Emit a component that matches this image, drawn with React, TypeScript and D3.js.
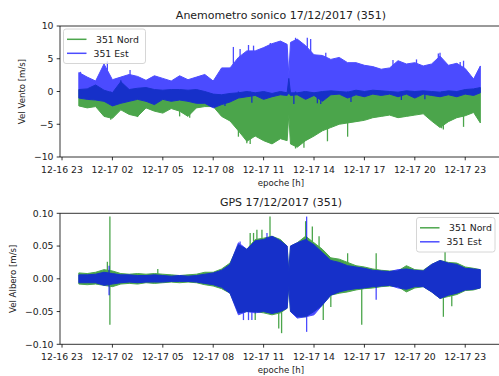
import React from 'react';
import * as d3 from 'd3';

// hours from 12-17 00:00
const times = [0, 0.5, 1, 1.5, 2, 2.5, 3, 3.5, 4, 4.5, 5, 5.5, 6, 6.5, 7, 7.5, 8, 8.5, 9, 9.5, 10, 10.5, 11, 11.5, 12, 12.4, 12.5, 12.6, 13, 13.5, 14, 14.5, 15, 15.5, 16, 16.5, 17, 17.5, 18, 18.5, 19, 19.5, 20, 20.5, 21, 21.5, 22, 22.5, 23, 23.5, 23.9];

// anemometro: envelope (min / max) of each half hour
const ventoNordLo = [-2.2, -2.5, -2.3, -3.8, -4.1, -2.8, -3.5, -3.8, -2.5, -3.0, -3.3, -2.6, -3.0, -3.8, -2.5, -2.3, -2.3, -3.8, -4.5, -6.0, -7.6, -6.8, -7.5, -8.0, -7.2, -7.5, -3.5, -8.0, -8.5, -7.5, -6.8, -6.0, -5.5, -5.0, -4.8, -4.6, -4.4, -4.0, -3.8, -3.6, -4.0, -3.8, -3.6, -3.4, -4.5, -5.5, -4.6, -4.0, -3.7, -3.2, -4.8];
const ventoNordHi = [0.3, 0.4, 1.0, 0.2, -0.2, 1.5, 0.3, 0.5, 0.6, 0.3, 0.2, 0.3, 0.3, 0.2, 0.3, 0.0, -0.4, -0.5, -0.3, -0.2, 0.0, -0.2, 0.0, -0.3, 0.0, -0.2, 2.0, -0.2, -0.2, 0.0, -0.2, 0.0, 0.1, 0.0, -0.1, 0.2, 0.0, 0.2, 0.1, 0.0, -0.1, 0.1, 0.0, 0.1, 0.0, -0.1, 0.1, 0.0, 0.3, 0.4, 0.6];
const ventoEstLo = [-1.0, -1.2, -1.3, -1.5, -2.2, -1.8, -1.5, -1.2, -1.5, -2.0, -1.2, -1.5, -1.3, -1.5, -1.8, -1.8, -2.5, -2.0, -1.6, -1.0, -0.8, -0.6, -1.2, -0.8, -0.5, -0.6, -0.2, -0.6, -0.5, -1.2, -0.6, -1.5, -0.5, -0.4, -1.0, -0.5, -0.8, -0.4, -0.6, -0.4, -0.8, -0.4, -1.0, -0.4, -0.6, -0.8, -0.5, -0.8, -0.4, -0.6, -0.2];
const ventoEstHi = [2.9, 2.2, 1.6, 4.2, 1.8, 2.2, 2.6, 2.3, 1.7, 2.4, 2.0, 1.6, 2.4, 1.8, 2.2, 2.6, 1.6, 3.6, 3.6, 5.2, 6.2, 6.2, 6.7, 7.3, 7.7, 7.2, 2.5, 7.5, 8.0, 7.0, 5.6, 5.5, 4.9, 5.2, 4.4, 4.4, 4.0, 3.8, 3.4, 3.6, 4.7, 4.2, 4.4, 3.9, 4.2, 5.4, 4.0, 4.3, 3.5, 1.9, 3.9];
const ventoNordSpikes = [[1.9, -4.3], [2.5, 1.7], [3.5, -3.9], [6.0, -3.8], [6.6, -4.0], [9.5, -6.9], [10.0, -7.9], [10.2, -8.0], [12.9, -8.7], [13.4, -8.6], [14.8, -7.6], [16.0, -6.9], [21.6, -5.6], [21.7, -5.8], [22.9, -5.4]];
const ventoEstSpikes = [[0.1, 3.0], [1.7, 4.6], [3.05, 3.3], [8.7, -2.2], [9.2, 6.8], [9.6, 6.5], [10.1, 7.1], [10.3, -1.7], [10.4, 7.0], [11.4, 7.4], [12.8, -1.9], [12.9, 8.2], [13.6, 8.2], [13.8, 8.0], [14.2, -1.8], [14.4, -1.9], [14.7, 5.9], [16.2, -1.6], [18.7, 4.8], [19.2, -1.3], [20.1, 4.9], [20.6, -1.2], [21.4, 5.8], [21.5, 5.9], [22.7, 4.5], [22.9, 4.7]];

// GPS
const gpsNordLo = [-0.008, -0.009, -0.008, -0.010, -0.012, -0.008, -0.007, -0.008, -0.006, -0.007, -0.006, -0.005, -0.006, -0.005, -0.006, -0.009, -0.011, -0.015, -0.022, -0.052, -0.050, -0.050, -0.052, -0.055, -0.052, -0.045, -0.012, -0.050, -0.058, -0.058, -0.050, -0.040, -0.025, -0.022, -0.020, -0.017, -0.015, -0.014, -0.012, -0.011, -0.012, -0.020, -0.014, -0.012, -0.020, -0.030, -0.027, -0.024, -0.018, -0.017, -0.014];
const gpsNordHi = [0.009, 0.008, 0.010, 0.014, 0.012, 0.008, 0.007, 0.008, 0.007, 0.008, 0.007, 0.006, 0.005, 0.006, 0.007, 0.010, 0.010, 0.015, 0.024, 0.052, 0.045, 0.060, 0.062, 0.065, 0.060, 0.050, 0.012, 0.050, 0.055, 0.065, 0.055, 0.045, 0.032, 0.030, 0.025, 0.020, 0.018, 0.015, 0.013, 0.012, 0.012, 0.020, 0.014, 0.013, 0.022, 0.028, 0.025, 0.024, 0.018, 0.016, 0.014];
const gpsEstLo = [-0.006, -0.006, -0.006, -0.010, -0.008, -0.006, -0.005, -0.006, -0.005, -0.005, -0.005, -0.004, -0.004, -0.004, -0.005, -0.007, -0.009, -0.013, -0.022, -0.055, -0.050, -0.052, -0.050, -0.053, -0.050, -0.045, -0.010, -0.050, -0.060, -0.058, -0.055, -0.040, -0.025, -0.020, -0.017, -0.015, -0.014, -0.012, -0.011, -0.010, -0.014, -0.016, -0.012, -0.012, -0.020, -0.030, -0.025, -0.022, -0.017, -0.016, -0.014];
const gpsEstHi = [0.006, 0.006, 0.007, 0.010, 0.008, 0.006, 0.006, 0.005, 0.005, 0.006, 0.005, 0.004, 0.005, 0.004, 0.005, 0.007, 0.009, 0.013, 0.022, 0.055, 0.045, 0.058, 0.060, 0.065, 0.058, 0.050, 0.010, 0.050, 0.055, 0.060, 0.052, 0.040, 0.028, 0.025, 0.020, 0.018, 0.016, 0.013, 0.012, 0.011, 0.014, 0.015, 0.013, 0.012, 0.022, 0.028, 0.024, 0.022, 0.016, 0.015, 0.014];
const gpsNordSpikes = [[1.7, 0.026], [1.85, 0.095], [1.85, -0.07], [4.7, 0.015], [10.2, 0.07], [10.4, 0.07], [10.5, -0.063], [10.6, 0.075], [10.9, 0.075], [11.38, 0.095], [11.9, -0.076], [12.07, -0.083], [13.5, 0.088], [13.9, 0.08], [14.3, 0.065], [14.55, -0.063], [15.0, -0.043], [16.0, 0.039], [16.84, -0.07], [17.7, 0.039], [21.7, -0.058], [21.8, 0.041], [22.2, -0.042]];
const gpsEstSpikes = [[1.8, -0.025], [1.8, 0.02], [9.6, 0.057], [9.8, -0.063], [10.1, -0.063], [10.3, -0.063], [11.2, 0.07], [13.56, 0.095], [13.56, -0.081], [17.7, -0.032]];

const xTicks = [-1, 2, 5, 8, 11, 14, 17, 20, 23];
const xTickLabels = ['12-16 23', '12-17 02', '12-17 05', '12-17 08', '12-17 11', '12-17 14', '12-17 17', '12-17 20', '12-17 23'];
const ventoTicks = [-10, -5, 0, 5, 10];
const ventoTickLabels = ['\u221210', '\u22125', '0', '5', '10'];
const gpsTicks = [-0.1, -0.05, 0, 0.05, 0.1];
const gpsTickLabels = ['\u22120.10', '\u22120.05', '0.00', '0.05', '0.10'];

const GREEN = '#008000';
const BLUE = '#0000ff';
const FONT = 'DejaVu Sans, sans-serif';

const x = d3.scaleLinear().domain([-1.12, 25.1]).range([60, 500.5]);

function Series({ lo, hi, spikes, color, y }) {
  const pts = times.map((t, i) => ({ t, lo: lo[i], hi: hi[i] }));
  const area = d3.area()
    .x(d => x(d.t))
    .y0(d => y(d.lo))
    .y1(d => y(d.hi));
  return (
    <g opacity={0.7}>
      <path d={area(pts)} fill={color} stroke={color} strokeWidth={1} />
      {spikes.map((s, i) => (
        <line key={i} x1={x(s[0])} x2={x(s[0])} y1={y(0)} y2={y(s[1])} stroke={color} strokeWidth={1.3} />
      ))}
    </g>
  );
}

function Panel({ id, y, yTicks, yTickLabels, title, ylabel, ylabelX, nord, est, legend }) {
  const [bottom, top] = y.range();
  const left = 60;
  const right = 500.5;
  const midY = (top + bottom) / 2;
  return (
    <g>
      <clipPath id={id}>
        <rect x={left} y={top} width={right - left} height={bottom - top} />
      </clipPath>
      <g clipPath={`url(#${id})`}>
        <Series {...nord} color={GREEN} y={y} />
        <Series {...est} color={BLUE} y={y} />
      </g>
      {/* spines */}
      <line x1={left} x2={left} y1={top} y2={bottom} stroke="#000" strokeWidth={0.8} />
      <line x1={left} x2={right} y1={top} y2={top} stroke="#000" strokeWidth={0.8} />
      <line x1={left} x2={right} y1={bottom} y2={bottom} stroke="#000" strokeWidth={0.8} />
      {/* x axis */}
      {xTicks.map((t, i) => (
        <g key={t}>
          <line x1={x(t)} x2={x(t)} y1={bottom} y2={bottom + 3.3} stroke="#000" strokeWidth={0.8} />
          <text x={x(t)} y={bottom + 15.5} textAnchor="middle" fontSize={9.3} fontFamily={FONT} fill="#222">{xTickLabels[i]}</text>
        </g>
      ))}
      {/* y axis */}
      {yTicks.map((v, i) => (
        <g key={v}>
          <line x1={left - 3.3} x2={left} y1={y(v)} y2={y(v)} stroke="#000" strokeWidth={0.8} />
          <text x={left - 6.5} y={y(v) + 3.3} textAnchor="end" fontSize={9.3} fontFamily={FONT} fill="#222">{yTickLabels[i]}</text>
        </g>
      ))}
      <text x={281} y={top - 7} textAnchor="middle" fontSize={11} fontFamily={FONT} fill="#222">{title}</text>
      <text x={281} y={bottom + 29} textAnchor="middle" fontSize={8.6} fontFamily={FONT} fill="#222">epoche [h]</text>
      <text transform={`translate(${ylabelX},${midY}) rotate(-90)`} textAnchor="middle" fontSize={8.6} fontFamily={FONT} fill="#222">{ylabel}</text>
      {/* legend */}
      <g transform={`translate(${legend.x},${legend.y})`}>
        <rect x={0} y={0} width={legend.w} height={34.5} rx={2.5} fill="#fff" fillOpacity={0.8} stroke="#cccccc" strokeWidth={0.8} />
        <line x1={3.5} x2={23} y1={10.3} y2={10.3} stroke={GREEN} strokeOpacity={0.7} strokeWidth={1.5} />
        <line x1={3.5} x2={23} y1={24.3} y2={24.3} stroke={BLUE} strokeOpacity={0.7} strokeWidth={1.5} />
        <text x={32.5} y={13.6} fontSize={9.3} fontFamily={FONT} fill="#222">351 Nord</text>
        <text x={30} y={27.6} fontSize={9.3} fontFamily={FONT} fill="#222">351 Est</text>
      </g>
    </g>
  );
}

export default function App() {
  const yVento = d3.scaleLinear().domain([-10, 10]).range([157, 26]);
  const yGps = d3.scaleLinear().domain([-0.1, 0.1]).range([344.3, 213.3]);
  return (
    <svg width={499} height={376} style={{ position: 'absolute', left: 0, top: 0, background: '#fff' }}>
      <Panel
        id="clipVento"
        y={yVento}
        yTicks={ventoTicks}
        yTickLabels={ventoTickLabels}
        title="Anemometro sonico 17/12/2017 (351)"
        ylabel="Vel Vento [m/s]"
        ylabelX={25}
        nord={{ lo: ventoNordLo, hi: ventoNordHi, spikes: ventoNordSpikes }}
        est={{ lo: ventoEstLo, hi: ventoEstHi, spikes: ventoEstSpikes }}
        legend={{ x: 63.5, y: 29, w: 82 }}
      />
      <Panel
        id="clipGps"
        y={yGps}
        yTicks={gpsTicks}
        yTickLabels={gpsTickLabels}
        title="GPS 17/12/2017 (351)"
        ylabel="Vel Albero [m/s]"
        ylabelX={16}
        nord={{ lo: gpsNordLo, hi: gpsNordHi, spikes: gpsNordSpikes }}
        est={{ lo: gpsEstLo, hi: gpsEstHi, spikes: gpsEstSpikes }}
        legend={{ x: 416.5, y: 217.5, w: 78.5 }}
      />
    </svg>
  );
}
